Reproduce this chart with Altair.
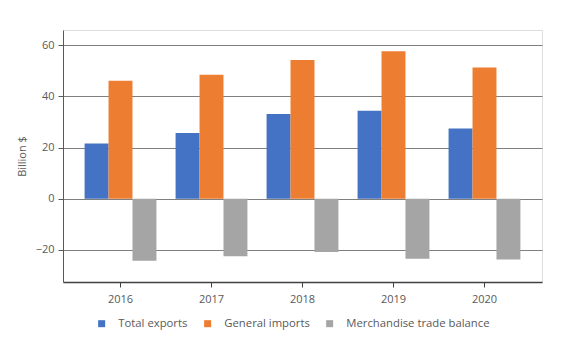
import altair as alt
import pandas as pd

years = ["2016", "2017", "2018", "2019", "2020"]
series = ["Total exports", "General imports", "Merchandise trade balance"]
exports = [21.6, 25.7, 33.1, 34.4, 27.5]
imports = [46.1, 48.5, 54.3, 57.7, 51.3]
balance = [-24.3, -22.5, -20.9, -23.5, -23.8]
colors = ["#4472C4", "#ED7D31", "#A5A5A5"]
y_ticks = [-20, 0, 20, 40, 60]

rows = []
for i, y in enumerate(years):
    for s, vals in zip(series, [exports, imports, balance]):
        rows.append({"year": y, "series": s, "value": vals[i], "order": series.index(s)})
df = pd.DataFrame(rows)

FONT = "Open Sans"
TXT = "#595959"

chart = alt.Chart(df).mark_bar().encode(
    x=alt.X("year:N", sort=years,
            scale=alt.Scale(paddingInner=0, paddingOuter=0.132),
            axis=alt.Axis(title=None, labelAngle=0, grid=False, domainColor="#404040",
                          domainWidth=1.5, tickColor="#404040", tickSize=5,
                          labelPadding=6, labelFontSize=11, labelColor=TXT, labelFont=FONT)),
    xOffset=alt.XOffset("series:N", sort=series,
                        scale=alt.Scale(paddingInner=0, paddingOuter=0.4)),
    y=alt.Y("value:Q", scale=alt.Scale(domain=[-32.6, 66], nice=False, zero=False),
            axis=alt.Axis(title="Billion $", values=y_ticks, grid=True, gridColor="#7f7f7f",
                          gridWidth=1, domainColor="#595959", tickColor="#595959", tickSize=5,
                          labelPadding=4, labelFontSize=11, labelColor=TXT, labelFont=FONT,
                          titleFont=FONT, titleFontSize=11, titleColor=TXT,
                          titleFontWeight="normal", titlePadding=8)),
    color=alt.Color("series:N", sort=series,
                    scale=alt.Scale(domain=series, range=colors),
                    legend=alt.Legend(title=None, orient="none", direction="horizontal",
                                      legendX=33, legendY=288, symbolType="square",
                                      symbolSize=49, symbolStrokeWidth=0, labelFont=FONT,
                                      labelFontSize=11.3, labelColor=TXT, labelOffset=11,
                                      columnPadding=14)),
).properties(
    width=479, height=252,
    autosize=alt.AutoSizeParams(type="none"),
    padding={"left": 55, "top": 22, "right": 11, "bottom": 50},
).configure_view(stroke=None).configure(background="white")

chart.save("out.html", embed_options={"renderer": "svg", "actions": False})
